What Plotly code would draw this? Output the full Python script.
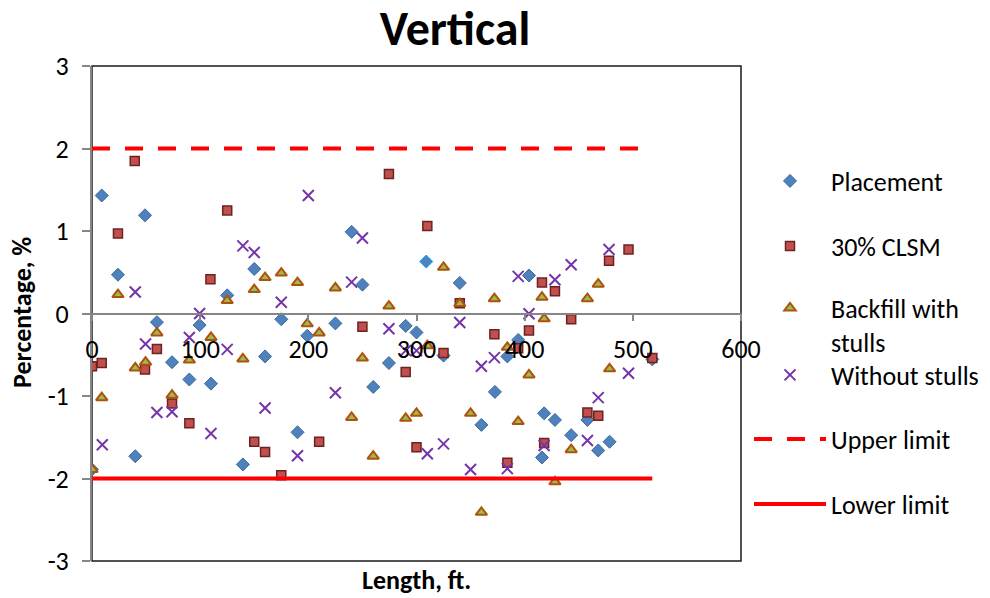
import plotly.graph_objects as go

# ---- data ----
placement_x = [0, 9, 24, 40, 49, 60, 74, 90, 99.5, 110, 125, 139.5, 150, 160, 175, 190, 199, 225, 240, 250,
               260, 274.5, 290, 300, 309, 325, 340, 360, 372.5, 384, 394, 404, 416, 418, 428, 443, 458, 468, 478.5, 518]
placement_y = [-1.89, 1.43, 0.47, -1.73, 1.19, -0.105, -0.59, -0.80, -0.14, -0.85, 0.22, -1.83, 0.54, -0.52, -0.07,
               -1.44, -0.27, -0.12, 0.99, 0.35, -0.89, -0.60, -0.15, -0.23, 0.63, -0.51, 0.37, -1.35, -0.95, -0.52,
               -0.32, 0.46, -1.745, -1.21, -1.29, -1.475, -1.29, -1.66, -1.555, -0.556]
highlight_x = 309

clsm_x = [0, 9, 24, 39.5, 49, 60, 74, 90, 109.5, 125, 150, 160, 175, 210, 250, 274.5, 290, 300, 310, 325,
          340, 372, 384, 394, 404, 416, 418, 428, 443, 458, 468, 478, 496, 518]
clsm_y = [-0.64, -0.60, 0.97, 1.85, -0.68, -0.43, -1.09, -1.33, 0.415, 1.25, -1.556, -1.68, -1.96, -1.556, -0.16,
          1.69, -0.71, -1.62, 1.06, -0.48, 0.125, -0.25, -1.81, -0.42, -0.205, 0.375, -1.57, 0.27, -0.07, -1.20,
          -1.24, 0.64, 0.775, -0.54]

backfill_x = [0, 9, 24, 40, 49.5, 60, 74, 90, 110, 125, 139.5, 150, 160, 175, 190, 199, 210, 225, 240, 250,
              260, 274.5, 290, 300, 310, 325, 340, 350, 360, 372, 384, 394, 404, 416, 418, 428, 443, 458, 468, 478.5]
backfill_y = [-1.89, -1.02, 0.23, -0.66, -0.59, -0.235, -0.99, -0.565, -0.29, 0.157, -0.55, 0.29, 0.435, 0.49,
              0.375, -0.125, -0.235, 0.31, -1.26, -0.54, -1.73, 0.09, -1.27, -1.21, -0.39, 0.56, 0.12, -1.21,
              -2.41, 0.18, -0.41, -1.31, -0.745, 0.197, -0.065, -2.04, -1.65, 0.18, 0.355, -0.67]

without_x = [9.5, 40, 49.5, 60, 74, 90, 99.5, 110, 125, 139.5, 150, 160, 175, 190, 200, 225, 240, 250, 274.5,
             290, 300, 310, 325, 340, 350, 360, 372, 384, 394, 404, 418, 428, 443, 458, 468, 478, 496]
without_y = [-1.59, 0.26, -0.37, -1.20, -1.19, -0.29, 0.0, -1.455, -0.435, 0.82, 0.74, -1.145, 0.137, -1.725,
             1.43, -0.96, 0.38, 0.915, -0.185, -0.45, -0.45, -1.70, -1.58, -0.11, -1.89, -0.64, -0.535, -1.88,
             0.45, -0.004, -1.60, 0.41, 0.59, -1.54, -1.02, 0.775, -0.725]

limit_x = [0, 518]
upper_y = [2, 2]
lower_y = [-2, -2]

x_ticks = [0, 100, 200, 300, 400, 500, 600]
y_ticks = [-3, -2, -1, 0, 1, 2, 3]
y_tick_labels = ["-3", "-2", "-1", "0", "1", "2", "3"]

names = ["Placement", "30% CLSM", "Backfill with<br>stulls", "Without stulls", "Upper limit", "Lower limit"]

# ---- styling ----
FONT = "Carlito, Calibri, Lato, sans-serif"
W, H = 990, 598
ML, MR, MT, MB = 92, 249, 66, 37
AXIS_GRAY = "#868686"

fig = go.Figure()

place_line = ["#00B0F0" if x == highlight_x else "#3A6A9E" for x in placement_x]
fig.add_trace(go.Scatter(x=placement_x, y=placement_y, mode="markers", name=names[0], legend="legend",
                         marker=dict(symbol="diamond", size=10, color="#4F81BD",
                                     line=dict(color=place_line, width=1))))
fig.add_trace(go.Scatter(x=clsm_x, y=clsm_y, mode="markers", name=names[1], legend="legend2",
                         marker=dict(symbol="square", size=9, color="#C0504D",
                                     line=dict(color="#6E2220", width=1.5))))
fig.add_trace(go.Scatter(x=backfill_x, y=backfill_y, mode="markers", name=names[2], legend="legend3",
                         marker=dict(symbol="triangle-up", size=10, color="#9BBB59",
                                     line=dict(color="#B0530A", width=2))))
fig.add_trace(go.Scatter(x=without_x, y=without_y, mode="markers", name=names[3], legend="legend4",
                         marker=dict(symbol="x-thin", size=11, color="#7030A0",
                                     line=dict(color="#7534A8", width=2))))
fig.add_trace(go.Scatter(x=limit_x, y=upper_y, mode="lines", name=names[4], legend="legend5",
                         line=dict(color="#FF0000", width=4, dash="18px,15px")))
fig.add_trace(go.Scatter(x=limit_x, y=lower_y, mode="lines", name=names[5], legend="legend6",
                         line=dict(color="#FF0000", width=4)))

legend_centers = [181, 246, 325, 375, 439, 504]
legend_keys = ["legend", "legend2", "legend3", "legend4", "legend5", "legend6"]
LEG_X = 749
for key, cy in zip(legend_keys, legend_centers):
    fig.update_layout(**{key: dict(
        x=LEG_X / W, y=1 - cy / H, xref="container", yref="container",
        xanchor="left", yanchor="middle", itemwidth=72,
        bgcolor="rgba(0,0,0,0)", borderwidth=0,
        font=dict(family=FONT, size=26, color="black"),
        valign="top" if key == "legend3" else "middle",
    )})

plot_w = W - ML - MR
plot_h = H - MT - MB

fig.update_layout(
    width=W, height=H, autosize=False,
    margin=dict(l=ML, r=MR, t=MT, b=MB, autoexpand=False),
    paper_bgcolor="white", plot_bgcolor="white",
    showlegend=True,
    font=dict(family=FONT, size=26, color="black"),
    title=dict(text="<b>Vertical</b>", x=455 / W, xref="container", xanchor="center",
               y=1 - 28 / H, yref="container", yanchor="middle",
               font=dict(family=FONT, size=48, color="black")),
    xaxis=dict(range=[0, 600], tickvals=x_ticks, anchor="free", position=0.5,
               showline=True, linecolor=AXIS_GRAY, linewidth=1.5,
               ticks="outside", ticklen=7, tickwidth=1.5, tickcolor=AXIS_GRAY,
               showgrid=False, zeroline=False, ticklabelstandoff=6,
               tickfont=dict(family=FONT, size=26, color="black")),
    yaxis=dict(range=[-3, 3], tickvals=y_ticks, ticktext=y_tick_labels,
               showline=True, linecolor=AXIS_GRAY, linewidth=2,
               ticks="outside", ticklen=8, tickwidth=1.5, tickcolor=AXIS_GRAY,
               showgrid=False, zeroline=False, ticklabelstandoff=8,
               tickfont=dict(family=FONT, size=26, color="black")),
    shapes=[dict(type="rect", xref="paper", yref="paper", x0=0, x1=1, y0=0, y1=1,
                 line=dict(color="#1A1A1A", width=1.5), layer="below")],
    annotations=[
        dict(text="<b>Percentage, %</b>", textangle=-90,
             x=(22 - ML) / plot_w, y=(H - MB - 313) / plot_h,
             xref="x domain", yref="y domain", xanchor="center", yanchor="middle", showarrow=False,
             font=dict(family=FONT, size=26, color="black")),
        dict(text="<b>Length, ft.</b>",
             x=(416 - ML) / plot_w, y=(H - MB - 580) / plot_h,
             xref="x domain", yref="y domain", xanchor="center", yanchor="middle", showarrow=False,
             font=dict(family=FONT, size=26, color="black")),
    ],
)

fig.write_html("out.html")
